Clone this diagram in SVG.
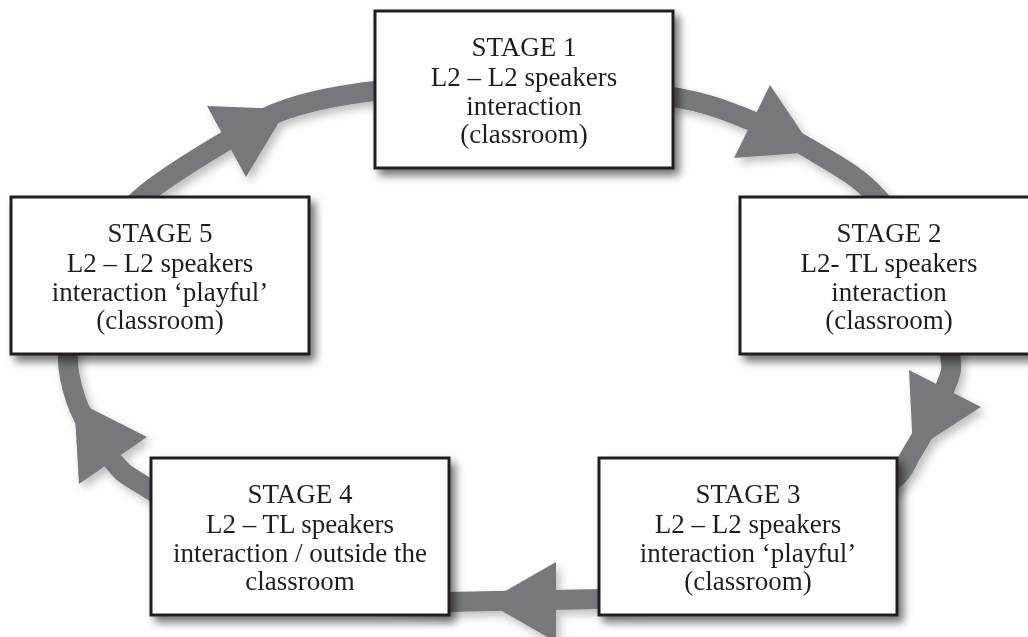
<svg xmlns="http://www.w3.org/2000/svg" width="1028" height="637" viewBox="0 0 1028 637">
<style>
.box{fill:#ffffff;stroke:#231f20;stroke-width:3}
.t{font-family:"Liberation Serif","Times New Roman",serif;font-size:27px;fill:#231f20;text-anchor:middle}
.ring{fill:none;stroke:#77787b;stroke-width:20}
.head{fill:#77787b}
</style>
<defs>
<filter id="sh" x="-10%" y="-10%" width="130%" height="130%">
<feDropShadow dx="5" dy="6" stdDeviation="4" flood-color="#000" flood-opacity="0.55"/>
</filter>
<filter id="sh2" x="-10%" y="-10%" width="130%" height="130%">
<feDropShadow dx="4" dy="5" stdDeviation="4" flood-color="#000" flood-opacity="0.25"/>
</filter>
</defs>
<rect width="1028" height="637" fill="#ffffff"/>
<g id="connectors" filter="url(#sh2)">
<path class="ring" d="M142 197 C164.7 177.2 201.8 155.7 226 141 C250.2 126.3 262.2 117.3 287 109 C311.8 100.7 335.5 95.5 375 91 C414.5 86.5 474.3 81 524 82 C573.7 83 635 90.5 673 97 C711 103.5 728.3 111.8 752 121 C775.7 130.2 794.2 139.3 815 152 C835.8 164.7 857.8 175.7 877 197 C896.2 218.3 917.8 253.8 930 280 C942.2 306.2 947.5 336 950 354 C952.5 372 951.2 371.8 945 388 C938.8 404.2 923.8 434 913 451 C902.2 468 907.2 471 880 490 C852.8 509 796.7 546.8 750 565 C703.3 583.2 650.2 592.8 600 599 L449 602 C399 598 349.7 593.7 300 575 C250.3 556.3 182.3 509.2 151 490 C119.7 470.8 125.2 475 112 460 C98.8 445 82 418 76 400 C71 385 67 370 68 354 C69 330 77.7 286.2 90 260 C102.3 233.8 119.3 216.8 142 197 Z"/>
<polygon class="head" points="207,106 246,177 287,109"/>
<polygon class="head" points="770,85 734,158 815,152"/>
<polygon class="head" points="909,370 981,407 913,451"/>
<polygon class="head" points="556,562 556,642 486,602"/>
<polygon class="head" points="147,437 79,484 74,400"/>
</g>
<g id="stage1" filter="url(#sh)">
<rect class="box" x="375" y="11" width="298" height="157"/>
<text class="t" x="524" y="56">STAGE 1</text>
<text class="t" x="524" y="86">L2 – L2 speakers</text>
<text class="t" x="524" y="115">interaction</text>
<text class="t" x="524" y="143">(classroom)</text>
</g>
<g id="stage2" filter="url(#sh)">
<rect class="box" x="740" y="197" width="298" height="157"/>
<text class="t" x="889" y="242">STAGE 2</text>
<text class="t" x="889" y="272">L2- TL speakers</text>
<text class="t" x="889" y="301">interaction</text>
<text class="t" x="889" y="329">(classroom)</text>
</g>
<g id="stage3" filter="url(#sh)">
<rect class="box" x="599" y="458" width="298" height="157"/>
<text class="t" x="748" y="503">STAGE 3</text>
<text class="t" x="748" y="533">L2 – L2 speakers</text>
<text class="t" x="748" y="562">interaction ‘playful’</text>
<text class="t" x="748" y="590">(classroom)</text>
</g>
<g id="stage4" filter="url(#sh)">
<rect class="box" x="151" y="458" width="298" height="157"/>
<text class="t" x="300" y="503">STAGE 4</text>
<text class="t" x="300" y="533">L2 – TL speakers</text>
<text class="t" x="300" y="562">interaction / outside the</text>
<text class="t" x="300" y="590">classroom</text>
</g>
<g id="stage5" filter="url(#sh)">
<rect class="box" x="11" y="197" width="298" height="157"/>
<text class="t" x="160" y="242">STAGE 5</text>
<text class="t" x="160" y="272">L2 – L2 speakers</text>
<text class="t" x="160" y="301">interaction ‘playful’</text>
<text class="t" x="160" y="329">(classroom)</text>
</g>
</svg>
